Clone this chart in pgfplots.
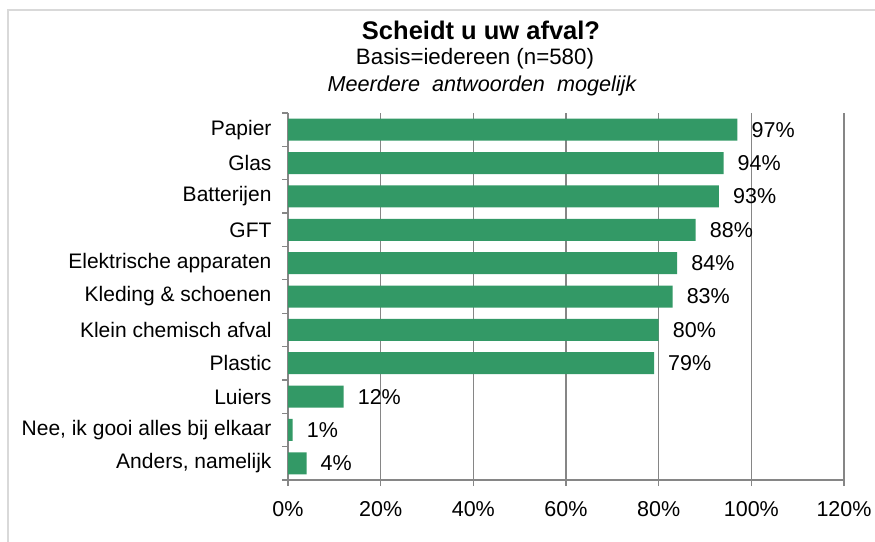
\documentclass[border=0pt]{standalone}
\usepackage{pgfplots}
\pgfplotsset{compat=1.18}
\usepackage{fontspec}
\setmainfont{Liberation Sans}
\definecolor{bargreen}{RGB}{51,153,102}
\definecolor{axgrey}{RGB}{134,134,134}
\definecolor{framegrey}{RGB}{217,217,217}
\begin{document}
\begin{tikzpicture}[x=1pt,y=1pt]
\useasboundingbox (0,0) rectangle (875,541);
\draw[framegrey, line width=1.5pt] (8,-5) -- (8,531) -- (880,531);
\node[anchor=base, font=\fontsize{25.5}{30}\selectfont\bfseries] at (481,501) {Scheidt u uw afval?};
\node[anchor=base, font=\fontsize{22.3}{26}\selectfont] at (475,476) {Basis=iedereen (n=580)};
\node[anchor=base, font=\fontsize{21.6}{25}\selectfont\itshape] at (482,449) {Meerdere\ \ antwoorden\ \ mogelijk};
\begin{axis}[
  at={(288pt,61pt)}, anchor=south west,
  width=556pt, height=367pt, scale only axis,
  xbar, bar width=22pt,
  xmin=0, xmax=120, ymin=-0.5, ymax=10.5, y dir=reverse,
  xtick={0,20,...,120},
  xticklabel={\pgfmathprintnumber{\tick}\%},
  ytick={-0.5,0.5,...,10.5},
  y tick label as interval,
  yticklabels={Papier,Glas,Batterijen,GFT,Elektrische apparaten,Kleding \& schoenen,Klein chemisch afval,Plastic,Luiers,{Nee, ik gooi alles bij elkaar},{Anders, namelijk}},
  axis x line*=bottom, axis y line*=left,
  axis line style={axgrey, line width=1.2pt},
  xmajorgrids, major grid style={axgrey, line width=1.2pt},
  tick align=outside, major tick length=6pt,
  tick style={axgrey, line width=1.2pt},
  /pgf/number format/assume math mode=true,
  xticklabel style={font=\fontsize{21.5}{25}\selectfont, text=black, yshift=-12pt},
  yticklabel style={font=\fontsize{21}{25}\selectfont, text=black, xshift=-7pt},
  nodes near coords={\pgfmathprintnumber{\pgfplotspointmeta}\%},
  point meta=x,
  every node near coord/.append style={font=\fontsize{21.5}{25}\selectfont, text=black, anchor=west, inner sep=0pt, xshift=14pt},
]
\addplot[fill=bargreen, draw=none] coordinates {
(97,0) (94,1) (93,2) (88,3) (84,4) (83,5) (80,6) (79,7) (12,8) (1,9) (4,10)
};
\end{axis}
\end{tikzpicture}
\end{document}
